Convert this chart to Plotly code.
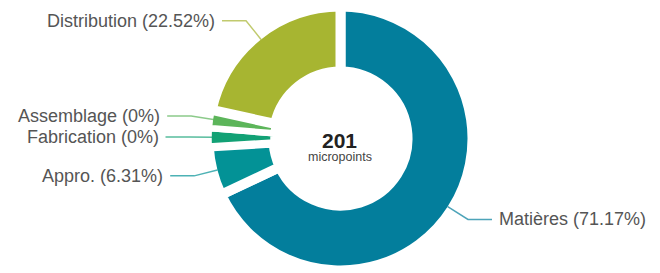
import math
import plotly.graph_objects as go

# ---- data ----
labels = ["Matières", "Appro.", "Fabrication", "Assemblage", "Distribution"]
shares = [71.17, 6.31, 0, 0, 22.52]          # percent
colors = ["#037E9C", "#039296", "#12A175", "#5CB55A", "#A7B531"]
total_value = 201
unit_label = "micropoints"

# ---- layout constants ----
W, H = 660, 273
CX, CY = 340.5, 138.5        # donut centre (px)
R_OUT = 132                  # pie radius incl. stroke (px)
R_VIS = 127                  # visible outer radius (px)
HOLE = 0.5076
MIN_ANGLE = 8.0              # minimum slice angle (deg), like the source chart
LEN1, LEN2, GAP_TXT = 24, 24, 5
FONT = "Liberation Sans, Arial, sans-serif"

# slice angles with a minimum angle for tiny slices
raw = [s / sum(shares) * 360 for s in shares]
small = [a < MIN_ANGLE for a in raw]
rest = 360 - MIN_ANGLE * sum(small)
big_sum = sum(a for a, sm in zip(raw, small) if not sm)
angles = [MIN_ANGLE if sm else a / big_sum * rest for a, sm in zip(raw, small)]
line_w = [6.5 if sm else 10 for sm in small]

fig = go.Figure(go.Pie(
    values=angles, labels=labels, sort=False, direction="clockwise", rotation=0,
    hole=HOLE, textinfo="none", showlegend=False, hoverinfo="label",
    marker=dict(colors=colors, line=dict(color="white", width=line_w)),
    domain=dict(x=[(CX - R_OUT) / W, (CX + R_OUT) / W],
                y=[(H - CY - R_OUT) / H, (H - CY + R_OUT) / H]),
))

def px(x, y):
    return x / W, 1 - y / H

shapes, annotations = [], []
start = 0.0
for lab, s, a, col in zip(labels, shares, angles, colors):
    mid = math.radians(start + a / 2)
    start += a
    sx, sy = CX + R_VIS * math.sin(mid), CY - R_VIS * math.cos(mid)
    kx, ky = CX + (R_VIS + LEN1) * math.sin(mid), CY - (R_VIS + LEN1) * math.cos(mid)
    side = 1 if sx > CX else -1
    ex = kx + side * LEN2
    p0, p1, p2 = px(sx, sy), px(kx, ky), px(ex, ky)
    shapes.append(dict(type="path", xref="paper", yref="paper",
                       path=f"M {p0[0]},{p0[1]} L {p1[0]},{p1[1]} L {p2[0]},{p2[1]}",
                       line=dict(color=col, width=1.5), opacity=0.7))
    tx, ty = px(ex + side * GAP_TXT, ky)
    annotations.append(dict(x=tx, y=ty, xref="paper", yref="paper",
                            text=f"{lab} ({s:g}%)", showarrow=False,
                            xanchor="left" if side > 0 else "right", yanchor="middle",
                            font=dict(family=FONT, size=18, color="#555555")))

cx_p, _ = px(CX - 1, 0)
annotations.append(dict(x=cx_p, y=px(0, 140)[1], xref="paper", yref="paper",
                        text=f"<b>{total_value}</b>", showarrow=False,
                        xanchor="center", yanchor="middle",
                        font=dict(family=FONT, size=21, color="#222222")))
annotations.append(dict(x=cx_p, y=px(0, 157)[1], xref="paper", yref="paper",
                        text=unit_label, showarrow=False,
                        xanchor="center", yanchor="middle",
                        font=dict(family=FONT, size=12.5, color="#444444")))

fig.update_layout(width=W, height=H, margin=dict(l=0, r=0, t=0, b=0),
                  paper_bgcolor="white", plot_bgcolor="white",
                  shapes=shapes, annotations=annotations)
fig.write_html("out.html", config={"displayModeBar": False})

# remove the browser's default page margin so the figure sits at (0, 0)
with open("out.html", encoding="utf-8") as f:
    html = f.read()
html = html.replace("<head>", "<head><style>html,body{margin:0;padding:0;}</style>", 1)
with open("out.html", "w", encoding="utf-8") as f:
    f.write(html)
